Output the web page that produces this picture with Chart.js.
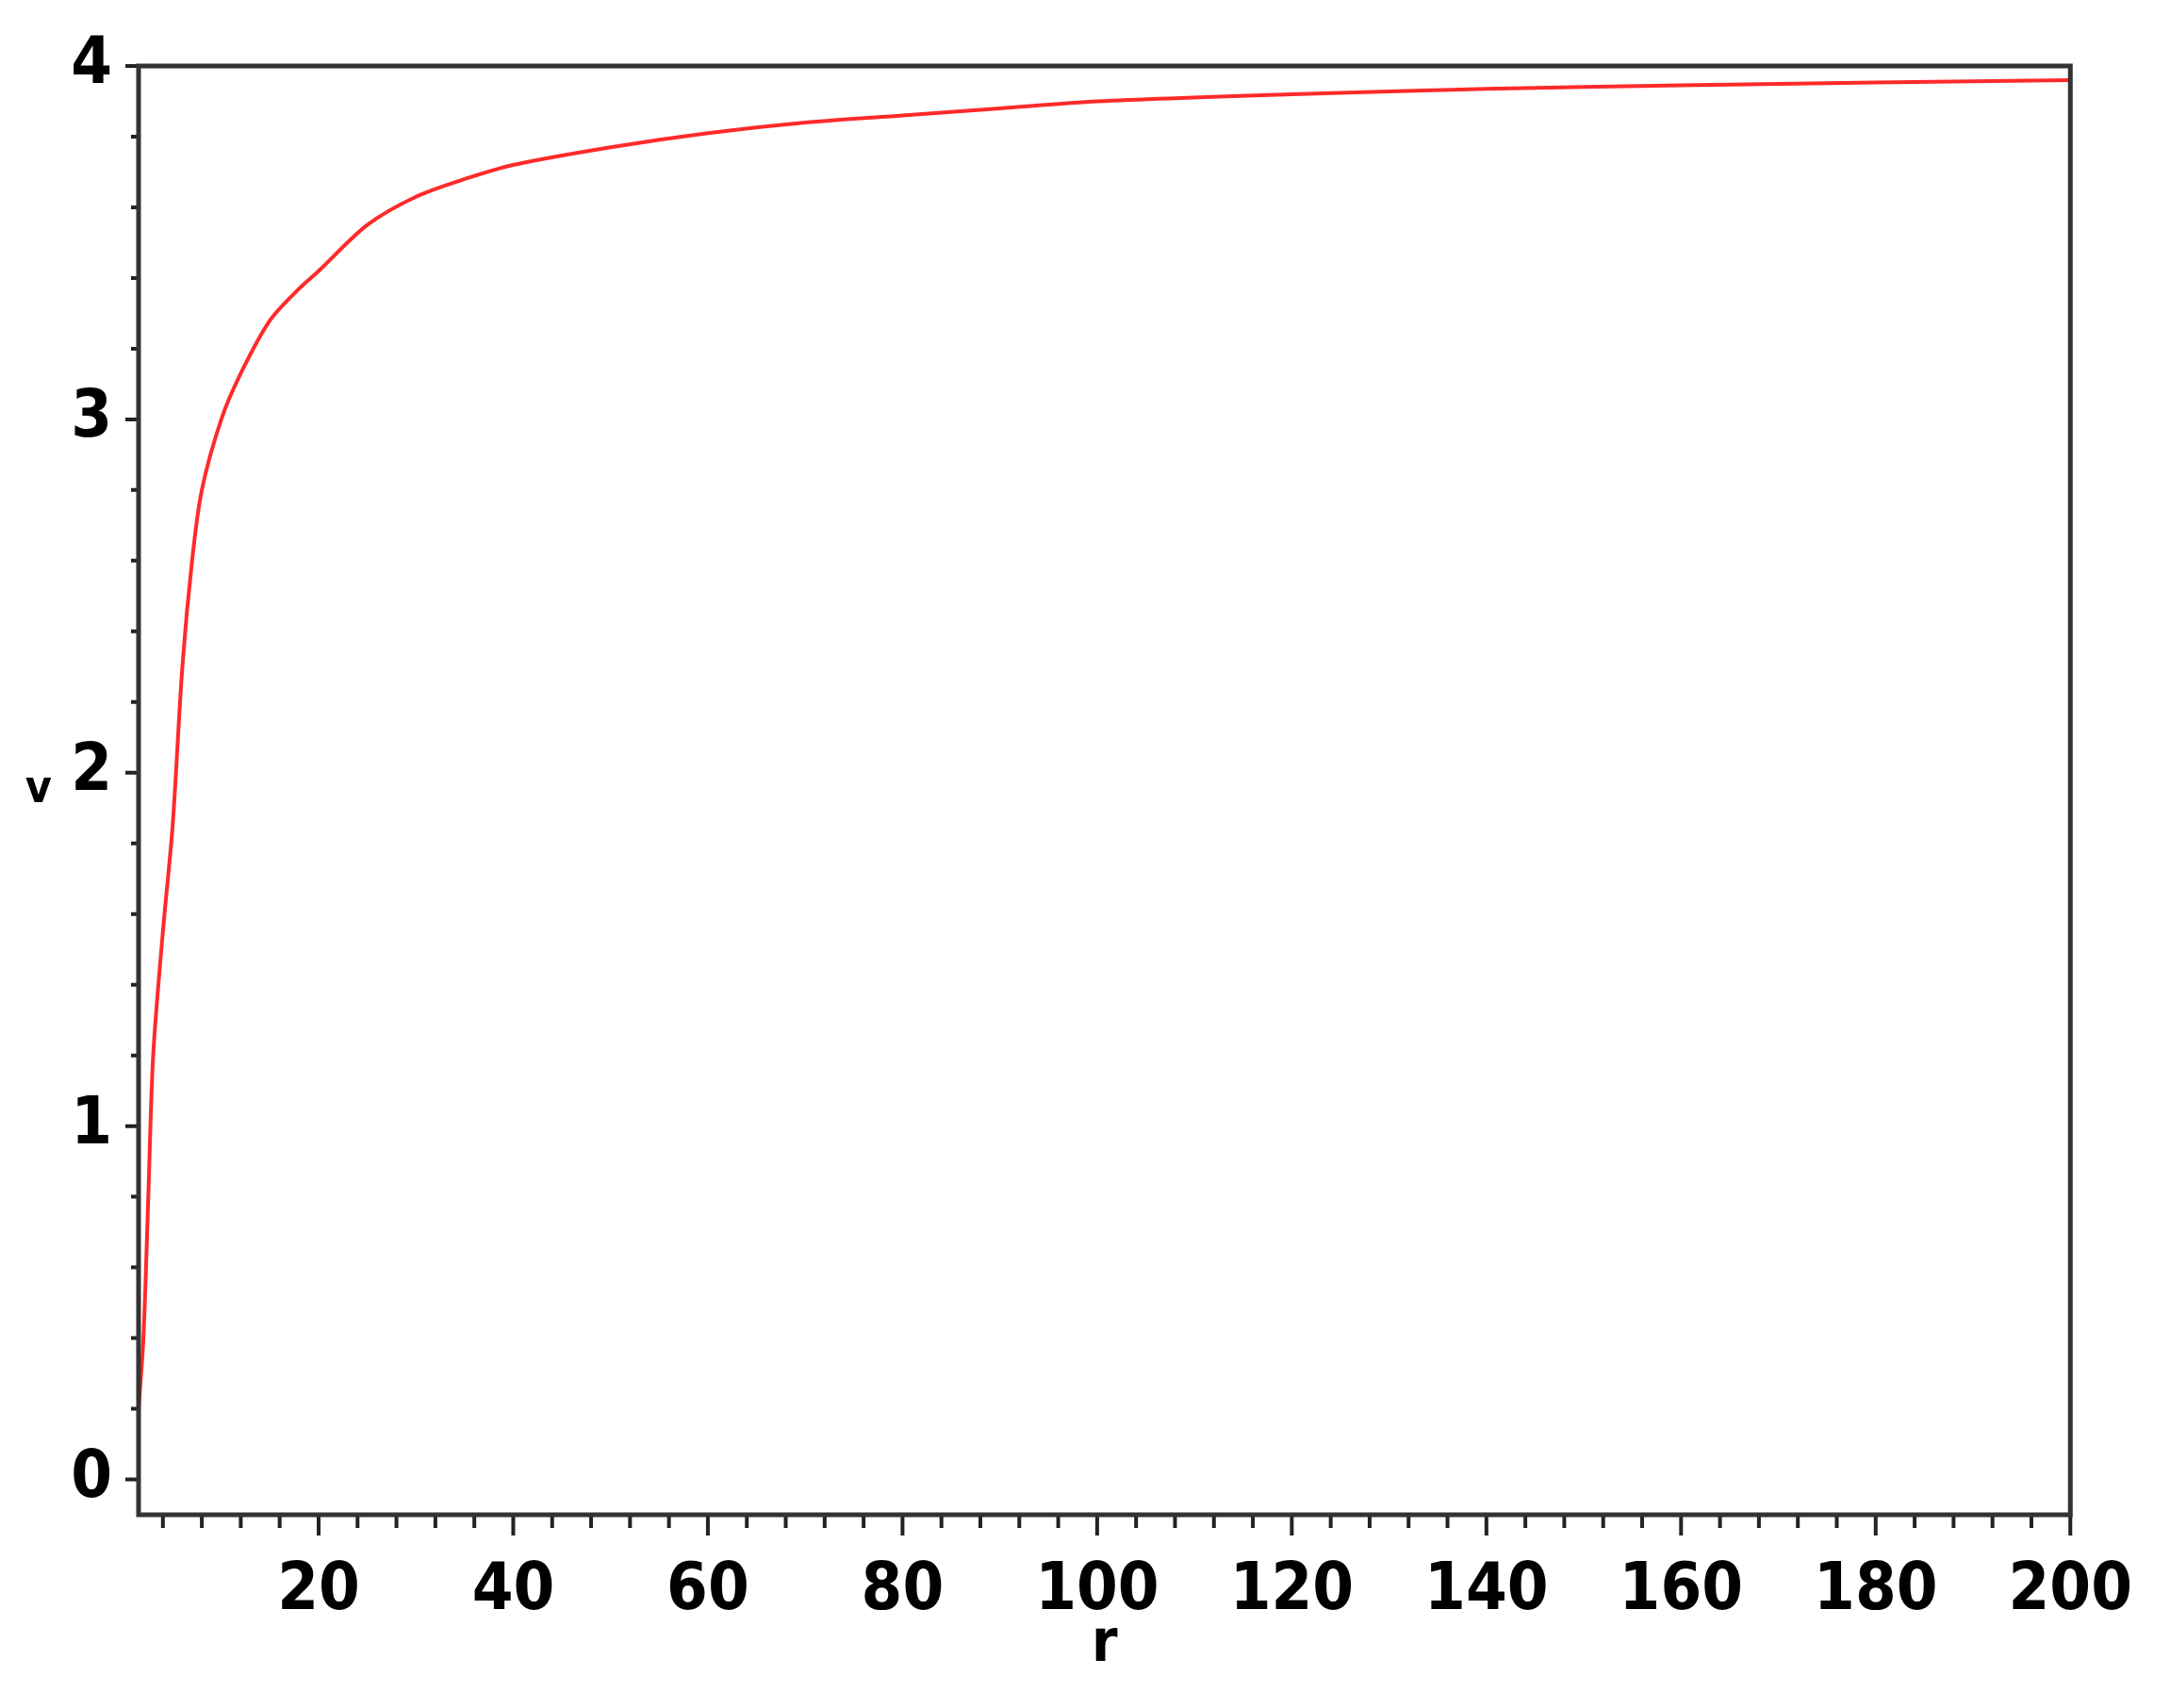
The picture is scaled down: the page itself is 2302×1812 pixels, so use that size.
<!DOCTYPE html>
<html><head><meta charset="utf-8">
<script src="https://cdn.jsdelivr.net/npm/chart.js@4/dist/chart.umd.min.js"></script>
<style>html,body{margin:0;padding:0;background:#fff}</style>
</head><body>
<canvas id="c" width="2302" height="1812"></canvas>
<script>
const rValues = [1, 1.5, 2, 2.5, 3, 4, 5, 6, 7, 8, 10, 12, 15, 18, 20, 25, 30, 35, 40, 50, 60, 70, 80, 90, 100, 120, 140, 160, 180, 200];
const vValues = [0, 0.2, 0.4, 0.8, 1.2, 1.55, 1.85, 2.3, 2.6, 2.8, 3.0, 3.13, 3.28, 3.37, 3.42, 3.55, 3.63, 3.68, 3.72, 3.77, 3.81, 3.84, 3.86, 3.88, 3.9, 3.92, 3.935, 3.945, 3.953, 3.96];
const xTicks = [20, 40, 60, 80, 100, 120, 140, 160, 180, 200];
const yTicks = [0, 1, 2, 3, 4];
const xLabel = 'r', yLabel = 'v';

const FONT = '"Liberation Sans Narrow", "DejaVu Sans Condensed", sans-serif';
const minor = {
  id: 'minor',
  afterDraw(ch) {
    const c = ch.ctx, x = ch.scales.x, y = ch.scales.y, a = ch.chartArea;
    c.save();
    c.strokeStyle = '#222'; c.lineWidth = 4;
    c.beginPath();
    for (let v = 4; v <= 200; v += 4) {
      const px = x.getPixelForValue(v), len = v % 20 === 0 ? 22 : 14;
      c.moveTo(px, a.bottom); c.lineTo(px, a.bottom + len);
    }
    for (let k = 0; k <= 20; k++) {
      const v = k * 0.2, py = y.getPixelForValue(v), len = k % 5 === 0 ? 14 : 8;
      c.moveTo(a.left, py); c.lineTo(a.left - len, py);
    }
    c.stroke();
    c.strokeStyle = '#333'; c.lineWidth = 5;
    c.strokeRect(a.left, a.top, a.right - a.left, a.bottom - a.top);
    c.fillStyle = '#000';
    c.font = 'bold 62px ' + FONT;
    c.textAlign = 'center'; c.textBaseline = 'top';
    c.fillText(xLabel, (a.left + a.right) / 2, 1715);
    c.textAlign = 'right'; c.textBaseline = 'middle';
    c.font = 'bold 48px ' + FONT;
    c.fillText(yLabel, 55, y.getPixelForValue(1.95));
    c.restore();
  }
};

new Chart(document.getElementById('c'), {
  type: 'line',
  data: { datasets: [{ data: rValues.map((r, i) => ({ x: r, y: vValues[i] })), borderColor: '#ff2a2a', borderWidth: 4, pointRadius: 0, tension: 0.3, fill: false }] },
  options: {
    responsive: false, animation: false, devicePixelRatio: 1,
    layout: { padding: { top: 51, right: 75, left: 0, bottom: 0 } },
    plugins: { legend: { display: false }, tooltip: { enabled: false } },
    scales: {
      x: {
        type: 'linear', min: 1.5, max: 200,
        afterBuildTicks: s => { s.ticks = xTicks.map(v => ({ value: v })); },
        afterFit: s => { s.height = 205; },
        grid: { display: false, drawTicks: false }, border: { display: false },
        ticks: { color: '#000', font: { family: FONT, size: 70, weight: 'bold' }, padding: 40, maxRotation: 0, autoSkip: false }
      },
      y: {
        type: 'linear', min: -0.1, max: 4,
        afterBuildTicks: s => { s.ticks = yTicks.map(v => ({ value: v })); },
        afterFit: s => { s.width = 147; },
        grid: { display: false, drawTicks: false }, border: { display: false },
        ticks: { color: '#000', font: { family: FONT, size: 70, weight: 'bold' }, padding: 28 }
      }
    }
  },
  plugins: [minor]
});
</script>
</body></html>
